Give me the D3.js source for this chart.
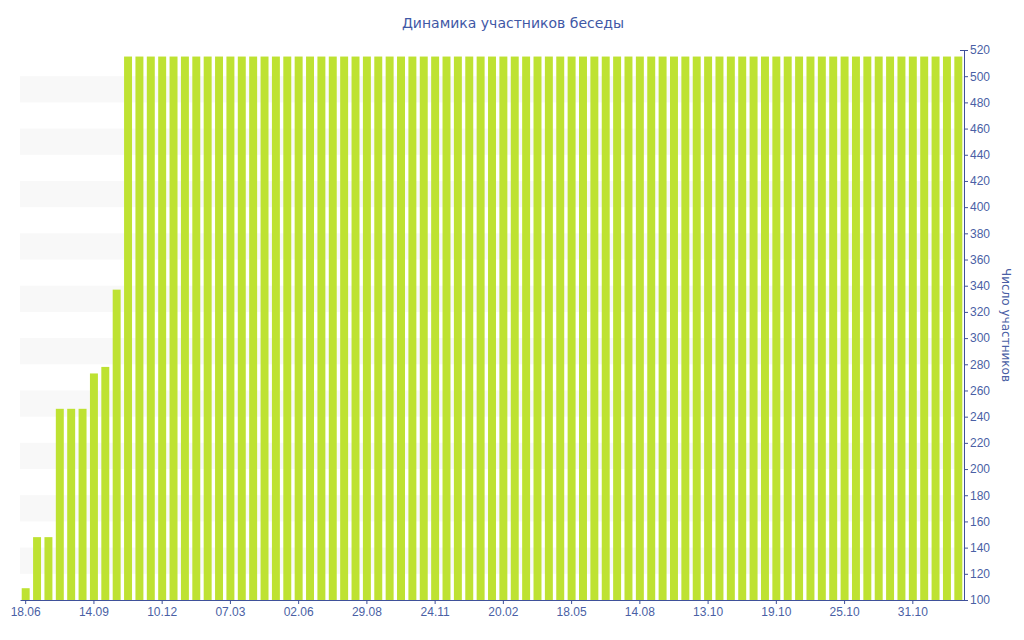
<!DOCTYPE html>
<html>
<head>
<meta charset="utf-8">
<script src="https://cdn.jsdelivr.net/npm/d3@7"></script>
<style>
  html, body { margin: 0; padding: 0; background: #fff; }
  svg { display: block; font-family: 'DejaVu Sans', Verdana, sans-serif; }
  .axis text { fill: #4a5fa5; font-size: 12px; }
  .axis path, .axis line { stroke: #3f519a; }
</style>
</head>
<body>
<svg id="chart" width="1024" height="640"></svg>
<script>
// number of chat members per snapshot (one bar each)
const members = [
  109, 148, 148, 246, 246, 246, 273, 278, 337,
  515, 515, 515, 515, 515, 515, 515, 515, 515, 515,
  515, 515, 515, 515, 515, 515, 515, 515, 515, 515,
  515, 515, 515, 515, 515, 515, 515, 515, 515, 515,
  515, 515, 515, 515, 515, 515, 515, 515, 515, 515,
  515, 515, 515, 515, 515, 515, 515, 515, 515, 515,
  515, 515, 515, 515, 515, 515, 515, 515, 515, 515,
  515, 515, 515, 515, 515, 515, 515, 515, 515, 515,
  515, 515, 515, 515
];

// date labels shown under every 6th bar
const tickLabels = ['18.06', '14.09', '10.12', '07.03', '02.06', '29.08', '24.11',
                    '20.02', '18.05', '14.08', '13.10', '19.10', '25.10', '31.10'];
const tickEvery = 6;

const yTicks = d3.range(100, 521, 20);

const chartTitle = 'Динамика участников беседы';
const yTitle = 'Число участников';

/* ---------------- layout ---------------- */
const svg = d3.select('#chart');
const plotL = 20, plotR = 964, plotT = 50, plotB = 600;

const x = d3.scaleBand()
  .domain(d3.range(members.length))
  .range([plotL, plotR])
  .paddingInner(0.3)
  .paddingOuter(0.15);

const y = d3.scaleLinear()
  .domain([100, 520])
  .range([plotB, plotT]);

// alternating background stripes
const stripes = yTicks.slice(0, -1).filter((d, i) => i % 2 === 1);
svg.append('g')
  .selectAll('rect')
  .data(stripes)
  .join('rect')
    .attr('x', plotL)
    .attr('width', plotR - plotL)
    .attr('y', d => y(d + 20))
    .attr('height', d => y(d) - y(d + 20))
    .attr('fill', '#f8f8f8');

// bars
svg.append('g')
  .selectAll('rect')
  .data(members)
  .join('rect')
    .attr('x', (d, i) => x(i))
    .attr('width', x.bandwidth())
    .attr('y', d => y(d))
    .attr('height', d => y(100) - y(d))
    .attr('fill', '#bee232');

// x axis
const xTickVals = tickLabels.map((d, i) => i * tickEvery);
svg.append('g')
  .attr('class', 'axis x')
  .attr('transform', `translate(0,${plotB})`)
  .call(d3.axisBottom(x)
    .tickValues(xTickVals)
    .tickFormat((d, i) => tickLabels[i])
    .tickSize(4)
    .tickSizeOuter(0)
    .tickPadding(2))
  .call(g => g.selectAll('text').attr('dy', '0.8em'));

// y axis on the right
const yAxis = svg.append('g')
  .attr('class', 'axis y')
  .attr('transform', `translate(${plotR},0)`)
  .call(d3.axisRight(y)
    .tickValues(yTicks)
    .tickSize(4)
    .tickSizeOuter(0)
    .tickPadding(2));
yAxis.select('.domain').attr('d', `M0.5,${plotT}V${plotB}`);
yAxis.selectAll('.tick line').attr('x1', d => d === 520 ? -4 : 0);

// right axis title
svg.append('text')
  .attr('transform', `translate(1002,${(plotT + plotB) / 2}) rotate(90)`)
  .attr('text-anchor', 'middle')
  .attr('fill', '#4a5fa5')
  .style('font-size', '12px')
  .text(yTitle);

// chart title
svg.append('text')
  .attr('x', 513)
  .attr('y', 28)
  .attr('text-anchor', 'middle')
  .attr('fill', '#3f58a6')
  .style('font-size', '14px')
  .text(chartTitle);
</script>
</body>
</html>
